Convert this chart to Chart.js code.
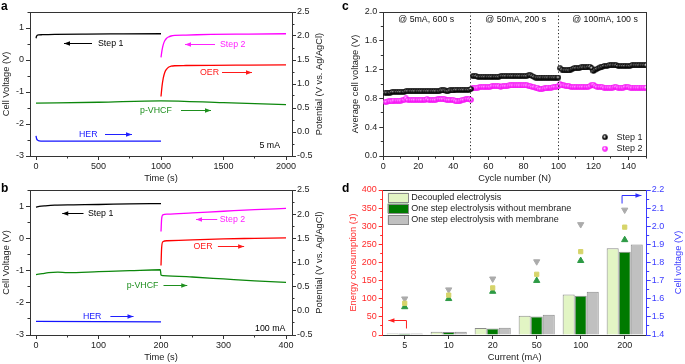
<!DOCTYPE html>
<html>
<head>
<meta charset="utf-8">
<script src="https://cdn.jsdelivr.net/npm/chart.js@4.4.1/dist/chart.umd.min.js"></script>
<style>
  body { margin: 0; background: #fff; }
  #wrap { position: relative; width: 685px; height: 364px; overflow: hidden; font-family: "Liberation Sans", Arial, sans-serif; }
  canvas { position: absolute; }
  .tag { position: absolute; font-weight: bold; font-size: 12px; line-height: 12px; color: #000; }
</style>
</head>
<body>
<div id="wrap">
  <canvas id="chartA" width="340" height="184" style="left:0;top:0"></canvas>
  <canvas id="chartB" width="340" height="185" style="left:0;top:178px"></canvas>
  <canvas id="chartC" width="345" height="184" style="left:340px;top:0"></canvas>
  <canvas id="chartD" width="345" height="185" style="left:340px;top:178px"></canvas>
  <div class="tag" style="left:1px;top:0">a</div>
  <div class="tag" style="left:1px;top:182px">b</div>
  <div class="tag" style="left:342px;top:0">c</div>
  <div class="tag" style="left:342px;top:182px">d</div>
</div>
<script>
// ---- panel a : 5 mA
const aTime1 = [0, 4, 10, 20, 50, 150, 400, 700, 1000];
const aStep1 = [0.68, 0.74, 0.77, 0.785, 0.79, 0.80, 0.81, 0.815, 0.82];
const aTime2 = [1000, 1008, 1018, 1030, 1045, 1060, 1080, 1110, 1200, 1400, 1700, 2000];
const aStep2 = [0.08, 0.30, 0.48, 0.60, 0.68, 0.72, 0.75, 0.77, 0.78, 0.80, 0.81, 0.82];
const aOer = [0.74, 0.95, 1.12, 1.24, 1.31, 1.35, 1.37, 1.38, 1.385, 1.39, 1.395, 1.40];
const aTimeV = [0, 500, 1000, 1500, 2000];
const aVhcf = [0.60, 0.62, 0.65, 0.61, 0.57];
const aTimeH = [0, 5, 12, 25, 60, 1000];
const aHer = [-0.08, -0.14, -0.17, -0.185, -0.19, -0.19];

// ---- panel b : 100 mA
const bTime1 = [0, 5, 15, 30, 60, 100, 150, 200];
const bStep1 = [0.97, 0.99, 1.01, 1.03, 1.04, 1.05, 1.07, 1.08];
const bTime2 = [200, 201, 203, 210, 250, 300, 350, 400];
const bStep2 = [0.21, 0.60, 0.73, 0.75, 0.79, 0.84, 0.89, 0.93];
const bOer = [0.94, 1.30, 1.43, 1.45, 1.47, 1.49, 1.50, 1.51];
const bTimeV = [0, 10, 20, 35, 50, 100, 150, 199, 200, 203, 250, 300, 350, 400];
const bVhcf = [0.75, 0.77, 0.79, 0.80, 0.79, 0.81, 0.83, 0.85, 0.74, 0.73, 0.70, 0.66, 0.62, 0.59];
const bTimeH = [0, 200];
const bHer = [-0.22, -0.23];

// ---- panel c : average cell voltage per cycle (cycles 1..150)
const cStep1 = [
  0.88, 0.88, 0.88, 0.88, 0.89, 0.89, 0.89, 0.89, 0.89, 0.89,
  0.89, 0.89, 0.90, 0.90, 0.90, 0.90, 0.90, 0.90, 0.90, 0.90,
  0.90, 0.90, 0.90, 0.90, 0.90, 0.90, 0.90, 0.90, 0.90, 0.90,
  0.90, 0.90, 0.91, 0.91, 0.91, 0.90, 0.90, 0.91, 0.91, 0.91,
  0.92, 0.92, 0.92, 0.92, 0.92, 0.92, 0.92, 0.92, 0.92, 0.93,
  1.11, 1.11, 1.11, 1.10, 1.10, 1.10, 1.10, 1.10, 1.10, 1.10,
  1.10, 1.10, 1.10, 1.10, 1.10, 1.10, 1.11, 1.11, 1.11, 1.11,
  1.11, 1.11, 1.11, 1.11, 1.11, 1.11, 1.11, 1.11, 1.11, 1.11,
  1.11, 1.11, 1.12, 1.12, 1.11, 1.10, 1.09, 1.09, 1.09, 1.09,
  1.09, 1.09, 1.09, 1.09, 1.09, 1.09, 1.09, 1.09, 1.09, 1.09,
  1.22, 1.20, 1.19, 1.19, 1.19, 1.19, 1.20, 1.21, 1.22, 1.22,
  1.22, 1.22, 1.23, 1.23, 1.23, 1.23, 1.24, 1.24, 1.22, 1.18,
  1.20, 1.21, 1.22, 1.23, 1.24, 1.25, 1.25, 1.25, 1.26, 1.26,
  1.26, 1.26, 1.26, 1.25, 1.25, 1.25, 1.25, 1.25, 1.25, 1.25,
  1.25, 1.26, 1.26, 1.26, 1.26, 1.26, 1.26, 1.26, 1.26, 1.26,
];
const cStep2 = [
  0.75, 0.75, 0.76, 0.76, 0.76, 0.77, 0.77, 0.77, 0.77, 0.77,
  0.78, 0.78, 0.80, 0.78, 0.78, 0.78, 0.78, 0.78, 0.78, 0.78,
  0.78, 0.78, 0.78, 0.78, 0.79, 0.78, 0.78, 0.78, 0.78, 0.78,
  0.79, 0.79, 0.79, 0.79, 0.79, 0.78, 0.78, 0.78, 0.78, 0.78,
  0.77, 0.76, 0.76, 0.77, 0.78, 0.78, 0.79, 0.79, 0.79, 0.78,
  0.94, 0.95, 0.95, 0.95, 0.96, 0.96, 0.96, 0.96, 0.96, 0.96,
  0.96, 0.97, 0.97, 0.97, 0.97, 0.97, 0.96, 0.97, 0.97, 0.97,
  0.97, 0.98, 0.98, 0.98, 0.98, 0.98, 0.98, 0.98, 0.98, 0.98,
  0.98, 0.98, 0.97, 0.97, 0.96, 0.96, 0.95, 0.95, 0.93, 0.93,
  0.93, 0.94, 0.94, 0.95, 0.95, 0.95, 0.96, 0.96, 0.96, 0.97,
  1.00, 0.98, 0.98, 0.97, 0.97, 0.97, 0.96, 0.96, 0.96, 0.96,
  0.96, 0.96, 0.96, 0.96, 0.96, 0.96, 0.96, 0.97, 0.99, 0.99,
  0.97, 0.96, 0.96, 0.96, 0.96, 0.95, 0.95, 0.95, 0.95, 0.95,
  0.95, 0.96, 0.96, 0.95, 0.95, 0.95, 0.95, 0.96, 0.96, 0.96,
  0.95, 0.95, 0.95, 0.95, 0.95, 0.95, 0.95, 0.95, 0.95, 0.95,
];

// ---- panel d : energy (bars) and cell voltage (markers)
const dCurrents = ["5", "10", "20", "50", "100", "200"];
const dEnergyDecoupled = [4, 9, 19, 53, 112, 239];
const dEnergyNoMem = [4, 8, 18, 51, 108, 230];
const dEnergyMem = [4, 9, 20, 56, 119, 250];
const dVoltDecoupled = [1.575, 1.62, 1.66, 1.735, 1.86, 1.995];
const dVoltNoMem = [1.555, 1.60, 1.64, 1.70, 1.81, 1.925];
const dVoltMem = [1.60, 1.65, 1.71, 1.805, 2.01, 2.09];

// annotations (data units)
const aNotes = [
  { text: "Step 1", x: 496, y: 0.52, axis: "y", color: "#000" },
  { text: "Step 2", x: 1472, y: 0.48, axis: "y", color: "#ff22ff" },
  { text: "OER", x: 1312, y: 1.23, axis: "y1", color: "#ff1a1a" },
  { text: "p-VHCF", x: 832, y: 0.44, axis: "y1", color: "#1e8f1e" },
  { text: "HER", x: 344, y: -0.06, axis: "y1", color: "#2020ff" },
  { text: "5 mA", x: 1952, y: -0.29, axis: "y1", color: "#000", align: "right" },
];
const aArrows = [
  { pts: [[448, 0.52], [224, 0.52]], axis: "y", color: "#000" },
  { pts: [[1432, 0.48], [1192, 0.48]], axis: "y", color: "#ff22ff" },
  { pts: [[1488, 1.23], [1728, 1.23]], axis: "y1", color: "#ff1a1a" },
  { pts: [[1160, 0.44], [1400, 0.44]], axis: "y1", color: "#1e8f1e" },
  { pts: [[552, -0.06], [768, -0.06]], axis: "y1", color: "#2020ff" },
];
const bNotes = [
  { text: "Step 1", x: 83, y: 0.77, axis: "y", color: "#000" },
  { text: "Step 2", x: 294, y: 0.58, axis: "y", color: "#ff22ff" },
  { text: "OER", x: 252, y: 1.33, axis: "y1", color: "#ff1a1a" },
  { text: "p-VHCF", x: 145, y: 0.53, axis: "y1", color: "#1e8f1e" },
  { text: "HER", x: 75, y: -0.12, axis: "y1", color: "#2020ff" },
  { text: "100 mA", x: 399, y: -0.36, axis: "y1", color: "#000", align: "right" },
];
const bArrows = [
  { pts: [[76, 0.77], [42, 0.77]], axis: "y", color: "#000" },
  { pts: [[290, 0.58], [256, 0.58]], axis: "y", color: "#ff22ff" },
  { pts: [[291, 1.33], [333, 1.33]], axis: "y1", color: "#ff1a1a" },
  { pts: [[204, 0.53], [242, 0.53]], axis: "y1", color: "#1e8f1e" },
  { pts: [[119, -0.12], [156, -0.12]], axis: "y1", color: "#2020ff" },
];
const cNotes = [
  { text: "@ 5mA, 600 s", x: 24.5, y: 1.89, axis: "y", color: "#111", align: "center" },
  { text: "@ 50mA, 200 s", x: 75.6, y: 1.89, axis: "y", color: "#111", align: "center" },
  { text: "@ 100mA, 100 s", x: 126.6, y: 1.89, axis: "y", color: "#111", align: "center" },
];
const cDividers = [50, 100];
const dArrows = [
  { pts: [[0.04, 17], [0.04, 41], [-0.37, 41]], axis: "y", color: "#ff2020" },
  { pts: [[4.94, 2.127], [4.94, 2.172], [5.38, 2.172]], axis: "y1", color: "#3030ff" },
];

Chart.defaults.font.family = '"Liberation Sans", Arial, sans-serif';
Chart.defaults.font.size = 9;
Chart.defaults.color = "#222";
Chart.defaults.animation = false;
Chart.defaults.responsive = false;
Chart.defaults.plugins.legend.display = false;
Chart.defaults.plugins.tooltip.enabled = false;

const INK = "#333";
const RED = "#ff2a2a";
const BLUE = "#3b3bff";

const align = p => Math.round(p - 0.5) + 0.5;

function drawArrow(ctx, chart, arr) {
  const xs = chart.scales.x, ys = chart.scales[arr.axis];
  const pts = arr.pts.map(p => [xs.getPixelForValue(p[0]), ys.getPixelForValue(p[1])]);
  ctx.strokeStyle = arr.color;
  ctx.fillStyle = arr.color;
  ctx.lineWidth = 1;
  ctx.beginPath();
  pts.forEach((p, i) => (i ? ctx.lineTo(p[0], align(p[1])) : ctx.moveTo(p[0], align(p[1]))));
  ctx.stroke();
  const [x1, y1] = pts[pts.length - 2];
  const [x2, y2] = pts[pts.length - 1];
  const ang = Math.atan2(y2 - y1, x2 - x1);
  const len = 6, hw = 2.2;
  const yy = align(y2);
  ctx.beginPath();
  ctx.moveTo(x2, yy);
  ctx.lineTo(x2 - len * Math.cos(ang) + hw * Math.sin(ang), yy - len * Math.sin(ang) - hw * Math.cos(ang));
  ctx.lineTo(x2 - len * Math.cos(ang) - hw * Math.sin(ang), yy - len * Math.sin(ang) + hw * Math.cos(ang));
  ctx.closePath();
  ctx.fill();
}

function drawMinor(ctx, chart, ids) {
  const a = chart.chartArea;
  ids.forEach(id => {
    const s = chart.scales[id];
    const vals = s.ticks.map(t => t.value);
    if (vals.length < 2) return;
    const step = vals[1] - vals[0];
    const mids = [vals[0] - step / 2].concat(vals.map(v => v + step / 2))
      .filter(v => v >= s.min - 1e-9 && v <= s.max + 1e-9);
    ctx.strokeStyle = s.options.border.color;
    ctx.lineWidth = 1;
    ctx.beginPath();
    mids.forEach(v => {
      const p = align(s.getPixelForValue(v));
      if (s.position === "bottom") { ctx.moveTo(p, a.bottom); ctx.lineTo(p, a.bottom + 2.5); }
      else if (s.position === "left") { ctx.moveTo(a.left, p); ctx.lineTo(a.left - 2.5, p); }
      else { ctx.moveTo(a.right, p); ctx.lineTo(a.right + 2.5, p); }
    });
    ctx.stroke();
  });
}

const extras = {
  id: "extras",
  beforeDraw(chart, args, opts) {
    const a = chart.chartArea, ctx = chart.ctx;
    ctx.save();
    ctx.strokeStyle = INK;
    ctx.lineWidth = 1;
    ctx.strokeRect(align(a.left), align(a.top), align(a.right) - align(a.left), align(a.bottom) - align(a.top));
    ctx.restore();
  },
  afterDraw(chart, args, opts) {
    const a = chart.chartArea, ctx = chart.ctx;
    ctx.save();
    if (opts.minor) drawMinor(ctx, chart, opts.minor);
    (opts.dividers || []).forEach(v => {
      const x = align(chart.scales.x.getPixelForValue(v));
      ctx.strokeStyle = "#222";
      ctx.lineWidth = 1;
      ctx.setLineDash([1.2, 2.3]);
      ctx.beginPath();
      ctx.moveTo(x, a.top);
      ctx.lineTo(x, a.bottom);
      ctx.stroke();
      ctx.setLineDash([]);
    });
    ctx.font = '8.8px "Liberation Sans", Arial, sans-serif';
    ctx.textBaseline = "middle";
    (opts.notes || []).forEach(n => {
      ctx.fillStyle = n.color;
      ctx.textAlign = n.align || "left";
      ctx.fillText(n.text, chart.scales.x.getPixelForValue(n.x), chart.scales[n.axis].getPixelForValue(n.y));
    });
    (opts.arrows || []).forEach(arr => drawArrow(ctx, chart, arr));
    if (opts.rightTitle) {
      const t = opts.rightTitle;
      ctx.save();
      ctx.translate(a.right + t.gap, (a.top + a.bottom) / 2);
      ctx.rotate(-Math.PI / 2);
      ctx.font = '9.3px "Liberation Sans", Arial, sans-serif';
      ctx.textAlign = "center";
      ctx.fillStyle = t.color;
      ctx.fillText(t.text, 0, 0);
      ctx.restore();
    }
    if (opts.legend === "points") {
      ctx.font = '9px "Liberation Sans", Arial, sans-serif';
      ctx.textAlign = "left";
      chart.data.datasets.forEach((ds, i) => {
        const y = a.bottom - 18.7 + i * 11.4;
        const img = ds.pointStyle;
        ctx.drawImage(img, a.right - 41 - img.width / 2, y - img.height / 2);
        ctx.fillStyle = "#222";
        ctx.fillText(ds.label, a.right - 29.5, y);
      });
    }
    if (opts.legend === "boxes") {
      ctx.font = '9px "Liberation Sans", Arial, sans-serif';
      ctx.textAlign = "left";
      chart.data.datasets.filter(ds => ds.type === "bar").forEach((ds, i) => {
        const y = a.top + 2.5 + i * 11.2;
        ctx.fillStyle = ds.backgroundColor;
        ctx.fillRect(a.left + 5, y, 20.5, 9.5);
        ctx.strokeStyle = "#8a8a8a";
        ctx.lineWidth = 1;
        ctx.strokeRect(Math.round(a.left + 5) + 0.5, Math.round(y) + 0.5, 20, 9);
        ctx.fillStyle = "#222";
        ctx.fillText(ds.label, a.left + 28.5, y + 5);
      });
    }
    ctx.restore();
  },
};
Chart.register(extras);

// major ticks on every multiple of the step inside [min, max]
function onSteps(step) {
  return scale => {
    const ticks = [];
    const first = Math.ceil(scale.min / step - 1e-9);
    const last = Math.floor(scale.max / step + 1e-9);
    for (let k = first; k <= last; k++) ticks.push({ value: +(k * step).toFixed(10) });
    scale.ticks = ticks;
  };
}

function linAxis({ position, min, max, step, size, title = "", color = INK, digits = null, pad = 2 }) {
  const horizontal = position === "bottom";
  return {
    type: "linear",
    position,
    min,
    max,
    afterBuildTicks: onSteps(step),
    afterFit: s => { if (horizontal) s.height = size; else s.width = size; },
    ticks: {
      color: color === INK ? "#222" : color,
      padding: pad,
      maxRotation: 0,
      autoSkip: false,
      callback: v => (digits === null ? v : v.toFixed(digits)),
    },
    grid: { drawOnChartArea: false, drawTicks: true, tickLength: 4, color, tickColor: color },
    border: { display: true, color },
    title: {
      display: !!title,
      text: title,
      color: color === INK ? "#222" : color,
      font: { size: 9.3 },
      padding: { top: 1, bottom: 0 },
    },
  };
}

function lineSet(label, xs, ys, color, axisId) {
  return {
    label,
    data: xs.map((x, i) => ({ x, y: ys[i] })),
    borderColor: color,
    borderWidth: 1.3,
    pointRadius: 0,
    cubicInterpolationMode: "monotone",
    yAxisID: axisId,
  };
}

function ball(core, edge) {
  const c = document.createElement("canvas");
  c.width = c.height = 6;
  const g = c.getContext("2d");
  const grad = g.createRadialGradient(2.3, 2.3, 0.2, 3, 3, 3);
  grad.addColorStop(0, "#ffffff");
  grad.addColorStop(0.5, core);
  grad.addColorStop(1, edge);
  g.fillStyle = grad;
  g.beginPath();
  g.arc(3, 3, 2.8, 0, Math.PI * 2);
  g.fill();
  return c;
}

function potentialChart(id, sets, xMax, xStep, notes, arrows) {
  return new Chart(document.getElementById(id), {
    type: "line",
    data: { datasets: sets },
    options: {
      layout: { padding: { top: 12, right: 0, left: 0, bottom: 0 } },
      scales: {
        x: linAxis({ position: "bottom", min: -xMax * 0.024, max: xMax * 1.024, step: xStep, size: 28, title: "Time (s)", pad: 1 }),
        y: linAxis({ position: "left", min: -3, max: 1.5, step: 1, size: 30, title: "Cell Voltage (V)" }),
        y1: linAxis({ position: "right", min: -0.5, max: 2.5, step: 0.5, size: 48, digits: 1, pad: 1 }),
      },
      plugins: {
        extras: {
          minor: ["x", "y", "y1"],
          notes,
          arrows,
          rightTitle: { text: "Potential (V vs. Ag/AgCl)", color: "#222", gap: 27 },
        },
      },
    },
  });
}

potentialChart("chartA", [
  lineSet("Step 1", aTime1, aStep1, "#000000", "y"),
  lineSet("Step 2", aTime2, aStep2, "#ff00ff", "y"),
  lineSet("OER", aTime2, aOer, "#ff0000", "y1"),
  lineSet("p-VHCF", aTimeV, aVhcf, "#0c870c", "y1"),
  lineSet("HER", aTimeH, aHer, "#1414ff", "y1"),
], 2000, 500, aNotes, aArrows);

potentialChart("chartB", [
  lineSet("Step 1", bTime1, bStep1, "#000000", "y"),
  lineSet("Step 2", bTime2, bStep2, "#ff00ff", "y"),
  lineSet("OER", bTime2, bOer, "#ff0000", "y1"),
  lineSet("p-VHCF", bTimeV, bVhcf, "#0c870c", "y1"),
  lineSet("HER", bTimeH, bHer, "#1414ff", "y1"),
], 400, 100, bNotes, bArrows);

new Chart(document.getElementById("chartC"), {
  type: "scatter",
  data: {
    datasets: [
      { label: "Step 1", data: cStep1.map((y, i) => ({ x: i + 1, y })), pointStyle: ball("#111111", "#000000"), pointRadius: 3 },
      { label: "Step 2", data: cStep2.map((y, i) => ({ x: i + 1, y })), pointStyle: ball("#ff33ff", "#ee00ee"), pointRadius: 3 },
    ],
  },
  options: {
    layout: { padding: { top: 12, right: 39, left: 9, bottom: 0 } },
    scales: {
      x: linAxis({ position: "bottom", min: 0, max: 150, step: 20, size: 28, title: "Cycle number (N)", pad: 1 }),
      y: linAxis({ position: "left", min: 0, max: 2, step: 0.4, size: 34.3, title: "Average cell voltage (V)", digits: 1 }),
    },
    plugins: { extras: { minor: ["x", "y"], notes: cNotes, dividers: cDividers, legend: "points" } },
  },
});

new Chart(document.getElementById("chartD"), {
  type: "bar",
  data: {
    labels: dCurrents,
    datasets: [
      { type: "line", label: "Decoupled voltage", data: dVoltDecoupled, showLine: false, pointStyle: "rect", pointRadius: 3, backgroundColor: "#d6d46a", borderColor: "#d6d46a", yAxisID: "y1", order: 0 },
      { type: "line", label: "Without membrane voltage", data: dVoltNoMem, showLine: false, pointStyle: "triangle", pointRadius: 3.6, backgroundColor: "#2d9a45", borderColor: "#2d9a45", yAxisID: "y1", order: 0 },
      { type: "line", label: "With membrane voltage", data: dVoltMem, showLine: false, pointStyle: "triangle", rotation: 180, pointRadius: 3.6, backgroundColor: "#ababab", borderColor: "#ababab", yAxisID: "y1", order: 0 },
      { type: "bar", label: "Decoupled electrolysis", data: dEnergyDecoupled, backgroundColor: "#e2f5c4", borderColor: "#8a8a8a", borderWidth: 1, yAxisID: "y", order: 2, categoryPercentage: 0.82, barPercentage: 1 },
      { type: "bar", label: "One step electrolysis without membrane", data: dEnergyNoMem, backgroundColor: "#007a00", borderColor: "#8a8a8a", borderWidth: 1, yAxisID: "y", order: 2, categoryPercentage: 0.82, barPercentage: 1 },
      { type: "bar", label: "One step electrolysis with membrane", data: dEnergyMem, backgroundColor: "#c0c0c0", borderColor: "#8a8a8a", borderWidth: 1, yAxisID: "y", order: 2, categoryPercentage: 0.82, barPercentage: 1 },
    ],
  },
  options: {
    layout: { padding: { top: 12, right: 0, left: 7, bottom: 0 } },
    scales: {
      x: {
        type: "category",
        position: "bottom",
        afterFit: s => { s.height = 28; },
        ticks: { color: "#222", padding: 1, maxRotation: 0, autoSkip: false },
        grid: { offset: false, drawOnChartArea: false, tickLength: 4, color: INK },
        border: { display: true, color: INK },
        title: { display: true, text: "Current (mA)", color: "#222", font: { size: 9.3 }, padding: { top: 1, bottom: 0 } },
      },
      y: linAxis({ position: "left", min: 0, max: 400, step: 50, size: 35.7, title: "Energy consumption (J)", color: RED }),
      y1: linAxis({ position: "right", min: 1.4, max: 2.2, step: 0.1, size: 38.3, digits: 1, color: BLUE, pad: 1 }),
    },
    plugins: {
      extras: {
        minor: ["y", "y1"],
        arrows: dArrows,
        legend: "boxes",
        rightTitle: { text: "Cell voltage (V)", color: BLUE, gap: 31.6 },
      },
    },
  },
});
</script>
</body>
</html>
